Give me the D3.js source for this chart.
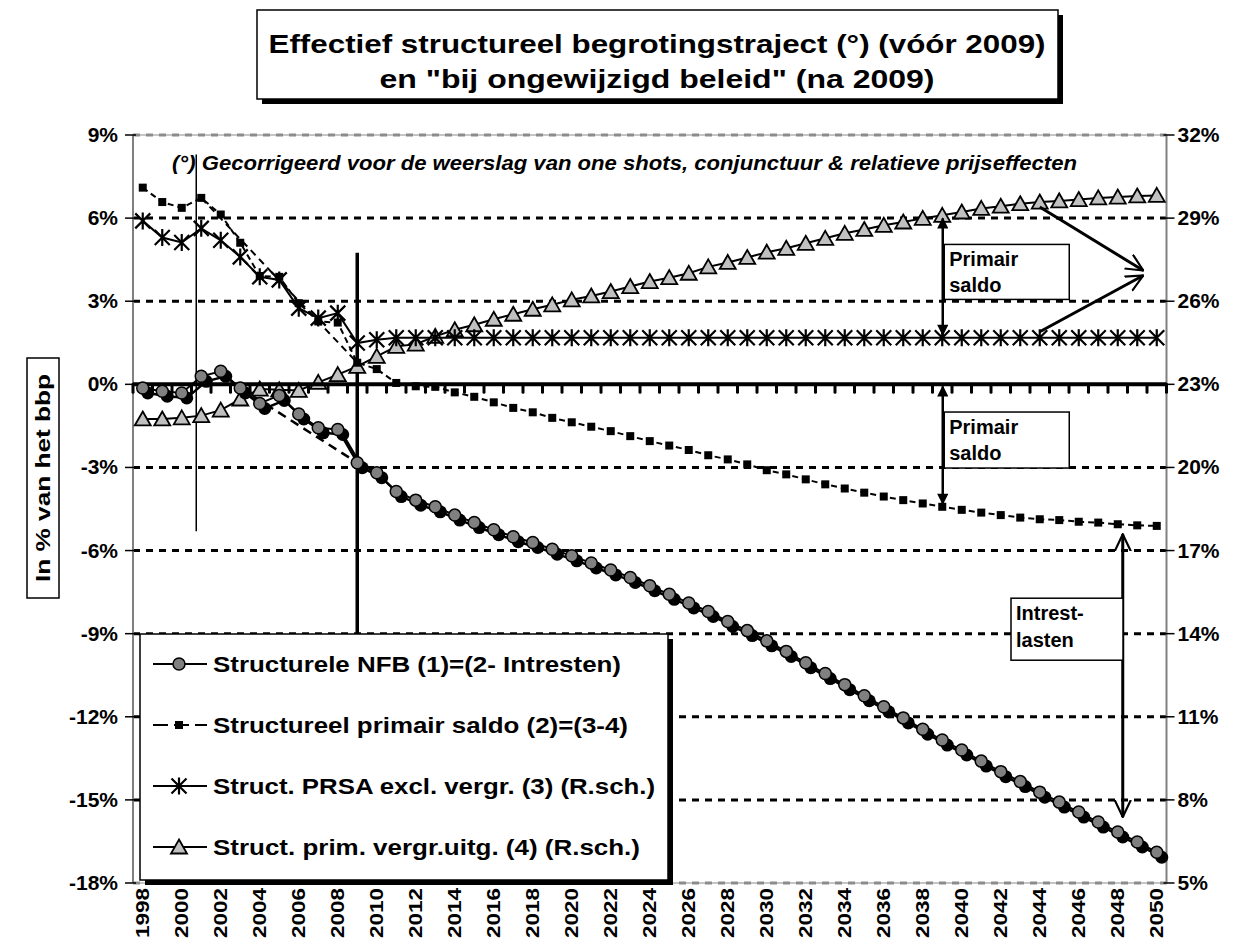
<!DOCTYPE html>
<html>
<head>
<meta charset="utf-8">
<title>Effectief structureel begrotingstraject</title>
<script src="https://cdn.jsdelivr.net/npm/d3@7"></script>
<style>
  body { margin: 0; background: #fff; }
  svg text { font-family: Arial, "Liberation Sans", sans-serif; font-weight: bold; fill: #000; }
</style>
</head>
<body>
<div id="chart"></div>
<script>
// ---- data ----
var years = [1998,1999,2000,2001,2002,2003,2004,2005,2006,2007,2008,2009,2010,2011,2012,2013,2014,2015,2016,2017,
  2018,2019,2020,2021,2022,2023,2024,2025,2026,2027,2028,2029,2030,2031,2032,2033,2034,2035,2036,2037,
  2038,2039,2040,2041,2042,2043,2044,2045,2046,2047,2048,2049,2050];

// (1) structurele NFB, % bbp (linker as)
var nfb = [-0.13,-0.25,-0.31,0.29,0.47,-0.13,-0.69,-0.40,-1.07,-1.57,-1.63,-2.83,-3.19,-3.87,-4.18,-4.42,-4.72,-4.99,-5.25,-5.50,
  -5.71,-5.95,-6.19,-6.45,-6.70,-6.97,-7.27,-7.58,-7.89,-8.20,-8.56,-8.89,-9.26,-9.64,-10.05,-10.44,-10.84,-11.24,-11.64,-12.04,
  -12.45,-12.84,-13.20,-13.60,-13.98,-14.34,-14.72,-15.08,-15.44,-15.80,-16.16,-16.52,-16.89];

// (2) structureel primair saldo (linker as)
var primair = [7.10,6.58,6.37,6.73,6.13,5.11,3.91,3.88,2.93,2.27,2.23,0.78,0.55,0.05,-0.07,-0.09,-0.29,-0.45,-0.65,-0.85,
  -1.01,-1.21,-1.37,-1.53,-1.69,-1.87,-2.05,-2.21,-2.37,-2.56,-2.71,-2.89,-3.10,-3.25,-3.43,-3.61,-3.76,-3.91,-4.05,-4.18,
  -4.30,-4.42,-4.53,-4.63,-4.72,-4.81,-4.87,-4.90,-4.96,-4.99,-5.05,-5.09,-5.11];

// (3) PRSA excl. vergrijzing (rechter as)
var prsa = [28.90,28.30,28.12,28.63,28.20,27.60,26.88,26.77,25.75,25.39,25.57,24.49,24.61,24.68,24.68,24.68,24.68,24.68,24.68,24.68,
  24.68,24.68,24.68,24.68,24.68,24.68,24.68,24.68,24.68,24.68,24.68,24.68,24.68,24.68,24.68,24.68,24.68,24.68,24.68,24.68,
  24.68,24.68,24.68,24.68,24.68,24.68,24.68,24.68,24.68,24.68,24.68,24.68,24.68];

// (4) primaire vergrijzingsuitgaven (rechter as)
var vergr = [21.75,21.75,21.79,21.87,22.07,22.47,22.83,22.80,22.78,23.07,23.35,23.65,24.01,24.37,24.45,24.73,24.97,25.15,25.35,25.53,
  25.71,25.87,26.05,26.19,26.35,26.53,26.71,26.85,27.01,27.24,27.40,27.58,27.77,27.91,28.09,28.27,28.45,28.59,28.74,28.86,
  28.99,29.10,29.22,29.35,29.43,29.52,29.58,29.62,29.67,29.73,29.76,29.80,29.82];

// dashed trajectory lines
var primairTraject = [[2001, 6.73], [2009, 0.78]];
var nfbTraject = [[2003, -0.13], [2009, -2.83]];

var leftTicks = [9, 6, 3, 0, -3, -6, -9, -12, -15, -18];
var rightTicks = [32, 29, 26, 23, 20, 17, 14, 11, 8, 5];
var yearLabels = years.filter(function(y) { return (y - 1998) % 2 === 0; });

var legendLabels = ["Structurele NFB (1)=(2- Intresten)",
  "Structureel primair saldo (2)=(3-4)",
  "Struct. PRSA excl. vergr. (3) (R.sch.)",
  "Struct. prim. vergr.uitg. (4) (R.sch.)"];
var legendWidths = [408, 415, 442, 427];

var titleLines = ["Effectief structureel begrotingstraject (°) (vóór 2009)", "en \"bij ongewijzigd beleid\" (na 2009)"];
var titleWidths = [777, 555];
var subtitle = "(°) Gecorrigeerd voor de weerslag van one shots, conjunctuur & relatieve prijseffecten";

// ---- layout ----
var W = 1239, H = 952;
var pLeft = 133, pRight = 1166.5, pTop = 135, pBottom = 883;

var svg = d3.select("#chart").append("svg")
  .attr("width", W).attr("height", H);

var x = d3.scaleBand().domain(years).range([pLeft, pRight]).padding(0);
var bw = x.bandwidth();
function xc(yr) { return x(yr) + bw / 2; }
var yL = d3.scaleLinear().domain([-18, 9]).range([pBottom, pTop]);
var yR = d3.scaleLinear().domain([5, 32]).range([pBottom, pTop]);
function at(arr, yr) { return arr[years.indexOf(yr)]; }

// arrow markers
var defs = svg.append("defs");
defs.append("marker").attr("id", "solidHead")
  .attr("viewBox", "0 0 10 10").attr("refX", 9).attr("refY", 5)
  .attr("markerWidth", 5.5).attr("markerHeight", 4.5).attr("orient", "auto-start-reverse")
  .attr("markerUnits", "strokeWidth")
  .append("path").attr("d", "M0,0 L10,5 L0,10 z").attr("fill", "#000");
defs.append("marker").attr("id", "openHead")
  .attr("viewBox", "0 0 10 10").attr("refX", 9.5).attr("refY", 5)
  .attr("markerWidth", 6).attr("markerHeight", 6).attr("orient", "auto-start-reverse")
  .attr("markerUnits", "strokeWidth")
  .append("path").attr("d", "M0,0.5 L9.5,5 L0,9.5").attr("fill", "none")
  .attr("stroke", "#000").attr("stroke-width", 1.2).attr("stroke-linejoin", "miter");

// ---- title ----
svg.append("rect").attr("x", 262).attr("y", 15).attr("width", 801).attr("height", 89).attr("fill", "#000");
svg.append("rect").attr("x", 257).attr("y", 10).attr("width", 801).attr("height", 89)
  .attr("fill", "#fff").attr("stroke", "#000").attr("stroke-width", 1.5);
svg.selectAll(".title").data(titleLines).enter().append("text")
  .attr("x", 657).attr("y", function(d, i) { return 53 + i * 35; })
  .attr("text-anchor", "middle").style("font-size", "26px")
  .attr("textLength", function(d, i) { return titleWidths[i]; })
  .attr("lengthAdjust", "spacingAndGlyphs")
  .text(function(d) { return d; });

// ---- gridlines ----
svg.append("g").selectAll("line").data(leftTicks.filter(function(t) { return t !== 0; })).enter().append("line")
  .attr("x1", pLeft).attr("x2", pRight)
  .attr("y1", function(d) { return yL(d); }).attr("y2", function(d) { return yL(d); })
  .attr("stroke", function(d) { return (d === 9 || d === -18) ? "#8c8c8c" : "#000"; })
  .attr("stroke-width", 3).attr("stroke-dasharray", "7,6");
svg.append("line").attr("x1", pLeft).attr("x2", pRight).attr("y1", pTop).attr("y2", pTop)
  .attr("stroke", "#8c8c8c").attr("stroke-width", 1);
svg.append("line").attr("x1", pLeft).attr("x2", pRight).attr("y1", pBottom).attr("y2", pBottom)
  .attr("stroke", "#8c8c8c").attr("stroke-width", 1);

// ---- value axes ----
svg.append("line").attr("x1", pLeft).attr("x2", pLeft).attr("y1", pTop).attr("y2", pBottom)
  .attr("stroke", "#808080").attr("stroke-width", 2);
svg.append("line").attr("x1", pRight).attr("x2", pRight).attr("y1", pTop).attr("y2", pBottom)
  .attr("stroke", "#808080").attr("stroke-width", 2);
svg.selectAll(".ltick").data(leftTicks).enter().append("line")
  .attr("x1", pLeft - 8).attr("x2", pLeft + 3)
  .attr("y1", function(d) { return yL(d); }).attr("y2", function(d) { return yL(d); })
  .attr("stroke", "#000").attr("stroke-width", 1.5);
svg.selectAll(".rtick").data(rightTicks).enter().append("line")
  .attr("x1", pRight - 3).attr("x2", pRight + 8)
  .attr("y1", function(d) { return yR(d); }).attr("y2", function(d) { return yR(d); })
  .attr("stroke", "#000").attr("stroke-width", 1.5);
svg.selectAll(".llab").data(leftTicks).enter().append("text")
  .attr("x", pLeft - 15).attr("y", function(d) { return yL(d) + 7; })
  .attr("text-anchor", "end").style("font-size", "21px")
  .text(function(d) { return d + "%"; });
svg.selectAll(".rlab").data(rightTicks).enter().append("text")
  .attr("x", pRight + 11).attr("y", function(d) { return yR(d) + 7; })
  .attr("text-anchor", "start").style("font-size", "21px")
  .text(function(d) { return d + "%"; });

// y-axis title
var yt = svg.append("g").attr("transform", "translate(43,478) rotate(-90)");
yt.append("rect").attr("x", -120).attr("y", -16).attr("width", 240).attr("height", 32)
  .attr("fill", "#fff").attr("stroke", "#000").attr("stroke-width", 1.5);
yt.append("text").attr("x", 0).attr("y", 7).attr("text-anchor", "middle")
  .style("font-size", "21px").attr("textLength", 208).attr("lengthAdjust", "spacingAndGlyphs")
  .text("In % van het bbp");

// year labels
svg.selectAll(".xlab").data(yearLabels).enter().append("text")
  .attr("transform", function(d) { return "translate(" + (xc(d) + 6) + "," + (pBottom + 5) + ") rotate(-90)"; })
  .attr("text-anchor", "end").style("font-size", "18px")
  .attr("textLength", 50).attr("lengthAdjust", "spacingAndGlyphs")
  .text(function(d) { return d; });

// subtitle
svg.append("text").attr("x", 172).attr("y", 170)
  .style("font-size", "20px").style("font-style", "italic")
  .attr("textLength", 905).attr("lengthAdjust", "spacingAndGlyphs")
  .text(subtitle);

// ---- series ----
var lineL = d3.line().x(function(d) { return xc(d[0]); }).y(function(d) { return yL(d[1]); });
var lineR = d3.line().x(function(d) { return xc(d[0]); }).y(function(d) { return yR(d[1]); });
function pairs(vals) { return years.map(function(yr, i) { return [yr, vals[i]]; }); }

// trajectories
svg.append("path").attr("d", lineL(primairTraject)).attr("fill", "none")
  .attr("stroke", "#000").attr("stroke-width", 2).attr("stroke-dasharray", "7,5");
svg.append("path").attr("d", lineL(nfbTraject)).attr("fill", "none")
  .attr("stroke", "#000").attr("stroke-width", 2.5).attr("stroke-dasharray", "9,6");

// vertical marker lines
svg.append("line").attr("x1", xc(2001) - 5).attr("x2", xc(2001) - 5)
  .attr("y1", yL(8.3)).attr("y2", yL(-5.3)).attr("stroke", "#000").attr("stroke-width", 1.5);
svg.append("line").attr("x1", xc(2009)).attr("x2", xc(2009))
  .attr("y1", yL(4.75)).attr("y2", yL(-11.7)).attr("stroke", "#000").attr("stroke-width", 3.5);

// (4) triangles, right axis
var triPath = "M0,-7.5 L8,6.5 L-8,6.5 Z";
svg.append("path").attr("d", lineR(pairs(vergr))).attr("fill", "none")
  .attr("stroke", "#000").attr("stroke-width", 2);
svg.selectAll(".tri").data(pairs(vergr)).enter().append("path")
  .attr("d", triPath)
  .attr("transform", function(d) { return "translate(" + xc(d[0]) + "," + yR(d[1]) + ")"; })
  .attr("fill", "#c0c0c0").attr("stroke", "#000").attr("stroke-width", 1.8);

// (3) asterisks, right axis
var starPath = "M0,-8.5 L0,8.5 M-7.5,-7.5 L7.5,7.5 M-7.5,7.5 L7.5,-7.5";
svg.append("path").attr("d", lineR(pairs(prsa))).attr("fill", "none")
  .attr("stroke", "#000").attr("stroke-width", 2);
svg.selectAll(".star").data(pairs(prsa)).enter().append("path")
  .attr("d", starPath)
  .attr("transform", function(d) { return "translate(" + xc(d[0]) + "," + yR(d[1]) + ")"; })
  .attr("stroke", "#000").attr("stroke-width", 2.2);

// (2) squares, left axis
svg.append("path").attr("d", lineL(pairs(primair))).attr("fill", "none")
  .attr("stroke", "#000").attr("stroke-width", 2).attr("stroke-dasharray", "6,4");
svg.selectAll(".sq").data(pairs(primair)).enter().append("rect")
  .attr("x", function(d) { return xc(d[0]) - 4; }).attr("y", function(d) { return yL(d[1]) - 4; })
  .attr("width", 8).attr("height", 8).attr("fill", "#000");

// category axis at 0 %
svg.append("line").attr("x1", pLeft).attr("x2", pRight).attr("y1", yL(0)).attr("y2", yL(0))
  .attr("stroke", "#000").attr("stroke-width", 4);
svg.selectAll(".xtick").data(years.concat([null])).enter().append("line")
  .attr("x1", function(d, i) { return pLeft + i * bw; }).attr("x2", function(d, i) { return pLeft + i * bw; })
  .attr("y1", yL(0)).attr("y2", yL(0) + 8)
  .attr("stroke", "#000").attr("stroke-width", 3).attr("stroke-linecap", "round");

// (1) circles with shadow, left axis
var nfbPts = pairs(nfb);
var sh = svg.append("g").attr("transform", "translate(5,5)");
sh.append("path").attr("d", lineL(nfbPts)).attr("fill", "none").attr("stroke", "#000").attr("stroke-width", 2.5);
sh.selectAll("circle").data(nfbPts).enter().append("circle")
  .attr("cx", function(d) { return xc(d[0]); }).attr("cy", function(d) { return yL(d[1]); })
  .attr("r", 6.5).attr("fill", "#000");
svg.append("path").attr("d", lineL(nfbPts)).attr("fill", "none").attr("stroke", "#000").attr("stroke-width", 2);
svg.selectAll(".circ").data(nfbPts).enter().append("circle")
  .attr("cx", function(d) { return xc(d[0]); }).attr("cy", function(d) { return yL(d[1]); })
  .attr("r", 6).attr("fill", "#808080").attr("stroke", "#000").attr("stroke-width", 1.5);

// ---- annotations ----
var ax = xc(2039) + 0.5;
// primair saldo (rechter as)
svg.append("line").attr("x1", ax).attr("x2", ax)
  .attr("y1", yR(at(vergr, 2039)) + 3).attr("y2", yR(at(prsa, 2039)) - 3)
  .attr("stroke", "#000").attr("stroke-width", 2.5)
  .attr("marker-start", "url(#solidHead)").attr("marker-end", "url(#solidHead)");
// primair saldo (linker as)
svg.append("line").attr("x1", ax).attr("x2", ax)
  .attr("y1", yL(0) + 2).attr("y2", yL(at(primair, 2039)) - 3)
  .attr("stroke", "#000").attr("stroke-width", 2.5)
  .attr("marker-start", "url(#solidHead)").attr("marker-end", "url(#solidHead)");
// intrestlasten
var ix = xc(2048) + 5;
svg.append("line").attr("x1", ix).attr("x2", ix)
  .attr("y1", yL(at(primair, 2048)) + 10).attr("y2", yL(at(nfb, 2048)) - 15)
  .attr("stroke", "#000").attr("stroke-width", 3)
  .attr("marker-start", "url(#openHead)").attr("marker-end", "url(#openHead)");
// converging arrows
var tipX = xc(2049) + 6, tipY = yR(27.0);
svg.append("line").attr("x1", xc(2044)).attr("y1", yR(at(vergr, 2044)) + 5)
  .attr("x2", tipX).attr("y2", tipY - 3)
  .attr("stroke", "#000").attr("stroke-width", 3).attr("marker-end", "url(#openHead)");
svg.append("line").attr("x1", xc(2044)).attr("y1", yR(at(prsa, 2044)) - 6)
  .attr("x2", tipX).attr("y2", tipY + 2)
  .attr("stroke", "#000").attr("stroke-width", 3).attr("marker-end", "url(#openHead)");

function labelBox(x0, y0, w, h, lines, lh) {
  svg.append("rect").attr("x", x0).attr("y", y0).attr("width", w).attr("height", h)
    .attr("fill", "#fff").attr("stroke", "#000").attr("stroke-width", 1.5);
  lines.forEach(function(t, i) {
    svg.append("text").attr("x", x0 + 5).attr("y", y0 + 22 + i * lh)
      .style("font-size", "20px").text(t);
  });
}
labelBox(ax + 1.5, yR(28.05), 125, 55, ["Primair", "saldo"], 26);
labelBox(ax + 1.5, yL(-1.0), 125, 56, ["Primair", "saldo"], 26);
labelBox(1011, yL(-7.72), 112, 62, ["Intrest-", "lasten"], 27);

// ---- legend ----
var lg = svg.append("g");
lg.append("rect").attr("x", 145).attr("y", 639).attr("width", 528).attr("height", 246).attr("fill", "#000");
lg.append("rect").attr("x", 140).attr("y", 634).attr("width", 528).attr("height", 246)
  .attr("fill", "#fff").attr("stroke", "#000").attr("stroke-width", 1.5);
var rows = lg.selectAll(".row").data(legendLabels).enter().append("g")
  .attr("transform", function(d, i) { return "translate(153," + (664 + i * 61) + ")"; });
rows.append("line").attr("x1", 0).attr("x2", 54).attr("y1", 0).attr("y2", 0)
  .attr("stroke", "#000").attr("stroke-width", 2)
  .attr("stroke-dasharray", function(d, i) { return i === 1 ? "15,6" : null; });
rows.each(function(d, i) {
  var g = d3.select(this);
  if (i === 0) g.append("circle").attr("cx", 26).attr("r", 6).attr("fill", "#808080").attr("stroke", "#000").attr("stroke-width", 1.5);
  if (i === 1) g.append("rect").attr("x", 22).attr("y", -4).attr("width", 8).attr("height", 8).attr("fill", "#000");
  if (i === 2) g.append("path").attr("d", starPath).attr("transform", "translate(26,0)").attr("stroke", "#000").attr("stroke-width", 2.2);
  if (i === 3) g.append("path").attr("d", triPath).attr("transform", "translate(26,0)").attr("fill", "#c0c0c0").attr("stroke", "#000").attr("stroke-width", 1.8);
});
rows.append("text").attr("x", 60).attr("y", 8).style("font-size", "22px")
  .attr("textLength", function(d, i) { return legendWidths[i]; })
  .attr("lengthAdjust", "spacingAndGlyphs")
  .text(function(d) { return d; });
</script>
</body>
</html>
